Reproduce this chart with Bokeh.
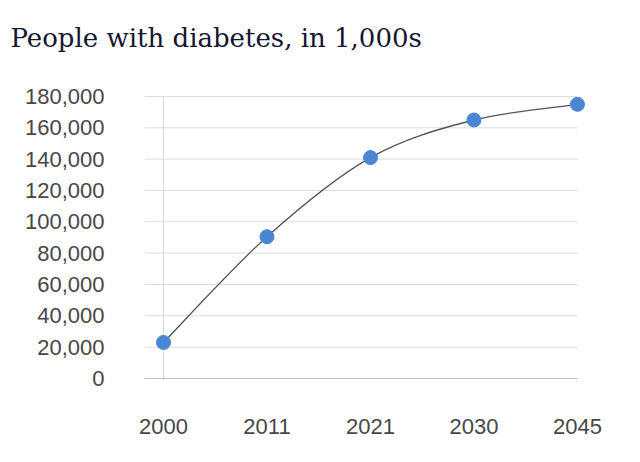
from bokeh.plotting import figure
from bokeh.models import FixedTicker, NumeralTickFormatter, Range1d, Label
from bokeh.layouts import column
from bokeh.embed import file_html
from bokeh.resources import INLINE

title = "People with diabetes, in 1,000s"
years = ["2000", "2011", "2021", "2030", "2045"]
people = [23000, 90500, 141000, 165000, 175000]
y_ticks = [0, 20000, 40000, 60000, 80000, 100000, 120000, 140000, 160000, 180000]

idx = list(range(len(years)))

# title strip
t = figure(width=624, height=70, output_backend="svg", toolbar_location=None,
           x_range=Range1d(0, 1), y_range=Range1d(0, 1), x_axis_type=None, y_axis_type=None,
           min_border=0, min_border_left=0, min_border_right=0, min_border_top=0, min_border_bottom=0)
t.outline_line_color = None
t.xgrid.visible = False
t.ygrid.visible = False
t.add_layout(Label(x=10, y=33, x_units="screen", y_units="screen", text=title,
                   text_font="DejaVu Serif", text_font_size="26px", text_color="#161633",
                   text_baseline="alphabetic", text_align="left"))

p = figure(width=624, height=379, output_backend="svg", toolbar_location=None,
           x_range=Range1d(-0.1836, 4.126), y_range=Range1d(-1277, 181277),
           min_border_left=144, min_border_right=34, min_border_top=24, min_border_bottom=69)
p.outline_line_color = None
p.background_fill_color = "white"
p.border_fill_color = "white"
p.xgrid.visible = False
p.ygrid.visible = False

if "frame_align" in t.properties():
    t.frame_align = False
    p.frame_align = False

# horizontal gridlines (from plot-area start to last category)
grid_y = y_ticks[1:]
p.segment(x0=[-0.1836] * len(grid_y), x1=[idx[-1]] * len(grid_y), y0=grid_y, y1=grid_y,
          line_color="#dcdcdc", line_width=1)
# vertical line at first category
p.segment(x0=[idx[0]], x1=[idx[0]], y0=[-1200], y1=[y_ticks[-1]], line_color="#dcdcdc", line_width=1)
# baseline
p.segment(x0=[-0.1836], x1=[idx[-1]], y0=[0], y1=[0], line_color="#bdbdbd", line_width=1.2)

# smooth curve (Catmull-Rom style bezier through the data points)
xs, ys = idx, people
n = len(xs)
x0s, y0s, x1s, y1s, cx0, cy0, cx1, cy1 = [], [], [], [], [], [], [], []
for i in range(n - 1):
    xa, ya = xs[max(i - 1, 0)], ys[max(i - 1, 0)]
    xb, yb = xs[i], ys[i]
    xc, yc = xs[i + 1], ys[i + 1]
    xd, yd = xs[min(i + 2, n - 1)], ys[min(i + 2, n - 1)]
    x0s.append(xb); y0s.append(yb); x1s.append(xc); y1s.append(yc)
    cx0.append(xb + (xc - xa) / 6); cy0.append(yb + (yc - ya) / 6)
    cx1.append(xc - (xd - xb) / 6); cy1.append(yc - (yd - yb) / 6)
p.bezier(x0=x0s, y0=y0s, x1=x1s, y1=y1s, cx0=cx0, cy0=cy0, cx1=cx1, cy1=cy1,
         line_color="#50555c", line_width=1.3)

p.scatter(x=idx, y=people, size=14, fill_color="#4a86d4", line_color="#4a86d4")

for ax in (p.xaxis[0], p.yaxis[0]):
    ax.axis_line_color = None
    ax.major_tick_line_color = None
    ax.minor_tick_line_color = None
    ax.major_tick_out = 0
    ax.major_label_text_font = "Liberation Sans"
    ax.major_label_text_font_size = "22px"
    ax.major_label_text_color = "#474747"

p.yaxis.ticker = FixedTicker(ticks=y_ticks)
p.yaxis.formatter = NumeralTickFormatter(format="0,0")
p.yaxis.major_label_standoff = 40
p.xaxis.ticker = FixedTicker(ticks=idx)
p.xaxis.major_label_overrides = {i: y for i, y in zip(idx, years)}
p.xaxis.major_label_standoff = 38

layout = column(t, p, spacing=0)
open("out.html", "w").write(file_html(layout, INLINE))
